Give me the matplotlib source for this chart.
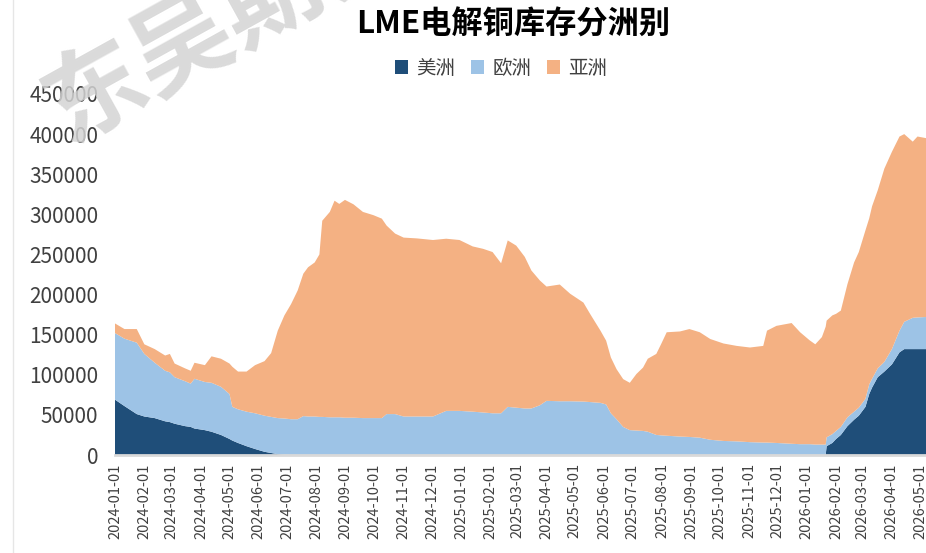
import matplotlib
matplotlib.use("Agg")
import matplotlib.pyplot as plt
import matplotlib.dates as mdates
from matplotlib.lines import Line2D
import pandas as pd

plt.rcParams['font.family'] = ['Noto Sans CJK SC', 'DejaVu Sans']

title = "LME电解铜库存分洲别"
series_names = ["美洲", "欧洲", "亚洲"]
watermark = "东吴期货"

dates = [
    "2024-01-01", "2024-01-11", "2024-01-24", "2024-02-01", "2024-02-12", "2024-02-23",
    "2024-02-28", "2024-03-04", "2024-03-15", "2024-03-21", "2024-03-25", "2024-04-05",
    "2024-04-12", "2024-04-22", "2024-05-01", "2024-05-04", "2024-05-10", "2024-05-19",
    "2024-05-28", "2024-06-07", "2024-06-14", "2024-06-21", "2024-06-28", "2024-07-05",
    "2024-07-12", "2024-07-18", "2024-07-23", "2024-07-30", "2024-08-04", "2024-08-07",
    "2024-08-15", "2024-08-20", "2024-08-25", "2024-08-31", "2024-09-09", "2024-09-19",
    "2024-09-30", "2024-10-09", "2024-10-14", "2024-10-23", "2024-11-01", "2024-11-15",
    "2024-12-02", "2024-12-16", "2024-12-30", "2025-01-13", "2025-01-24", "2025-02-03",
    "2025-02-12", "2025-02-19", "2025-02-28", "2025-03-09", "2025-03-16", "2025-03-25",
    "2025-04-01", "2025-04-15", "2025-04-26", "2025-05-10", "2025-05-17", "2025-05-28",
    "2025-06-03", "2025-06-08", "2025-06-14", "2025-06-21", "2025-06-28", "2025-07-05",
    "2025-07-12", "2025-07-17", "2025-07-26", "2025-07-31", "2025-08-06", "2025-08-20",
    "2025-08-30", "2025-09-10", "2025-09-21", "2025-10-05", "2025-10-19", "2025-11-02",
    "2025-11-16", "2025-11-20", "2025-11-30", "2025-12-16", "2025-12-25", "2026-01-04",
    "2026-01-10", "2026-01-17", "2026-01-21", "2026-01-22", "2026-01-28", "2026-02-01",
    "2026-02-06", "2026-02-13", "2026-02-20", "2026-02-25", "2026-03-04", "2026-03-08",
    "2026-03-11", "2026-03-17", "2026-03-24", "2026-04-01", "2026-04-09", "2026-04-14",
    "2026-04-23", "2026-04-28", "2026-05-07",
]

americas = [
    69000, 61000, 51000, 48000, 46000, 42000, 41000, 39000, 36000, 35000, 33000, 31000,
    29000, 25000, 20000, 18000, 15000, 11000, 7500, 4000, 2500, 1000, 300, 0,
    0, 0, 0, 0, 0, 0, 0, 0, 0, 0, 0, 0,
    0, 0, 0, 0, 0, 0, 0, 0, 0, 0, 0, 0,
    0, 0, 0, 0, 0, 0, 0, 0, 0, 0, 0, 0,
    0, 0, 0, 0, 0, 0, 0, 0, 0, 0, 0, 0,
    0, 0, 0, 0, 0, 0, 0, 0, 0, 0, 0, 0,
    0, 0, 0, 11000, 15000, 20000, 25000, 36000, 44000, 49000, 60000, 76000,
    84000, 97000, 104000, 113000, 128000, 132000, 132000, 132000, 132000,
]

europe = [
    83000, 84000, 89000, 78000, 69000, 63000, 62000, 58000, 56000, 54000, 62000, 60000,
    61000, 60000, 56000, 42000, 42000, 43000, 44500, 45000, 45000, 45000, 45200, 44600,
    44600, 48500, 48000, 48000, 47500, 47500, 47000, 47000, 47000, 46500, 46500, 46000,
    46000, 46000, 51000, 51000, 48000, 48000, 48000, 55000, 55000, 54000, 53000, 52000,
    52000, 60000, 59000, 58000, 58000, 62000, 67500, 67000, 67000, 66600, 66000, 65000,
    63000, 52000, 44600, 35000, 31000, 30500, 30000, 29000, 25000, 24500, 24000, 23000,
    22500, 21600, 19000, 17500, 17000, 16000, 15500, 15500, 15000, 14000, 13500, 13500,
    13000, 13000, 13000, 11000, 11000, 10000, 10000, 11000, 10000, 10000, 10000, 12000,
    11000, 11000, 12000, 19000, 27000, 34000, 39000, 39500, 40000,
]

asia = [
    12000, 12000, 17000, 12000, 17000, 19000, 23000, 17000, 16000, 16000, 20000, 21000,
    33000, 35000, 38000, 50000, 47000, 50000, 60000, 68000, 79500, 109000, 128500, 143400,
    160400, 177500, 186000, 192000, 202500, 244500, 256000, 270000, 266000, 271500, 266000, 257000,
    253000, 248600, 235000, 225000, 223000, 222000, 220000, 214600, 213000, 206000, 204000, 201000,
    187000, 207500, 202000, 189000, 172000, 155500, 142500, 145500, 134000, 123400, 110000, 90000,
    79500, 69600, 62400, 59600, 59000, 70500, 79000, 91000, 101000, 113500, 129000, 131000,
    134500, 131400, 125600, 121500, 119000, 118000, 120500, 139500, 146000, 150500, 139500, 129500,
    125000, 134000, 147000, 145500, 148000, 146000, 145000, 166000, 186000, 194000, 210000, 207000,
    215000, 222000, 241000, 246000, 242000, 234000, 219600, 225500, 223000,
]

y_ticks = [0, 50000, 100000, 150000, 200000, 250000, 300000, 350000, 400000, 450000]
colors = ["#1F4E79", "#9DC3E6", "#F4B183"]

W, H = 926, 553
fig = plt.figure(figsize=(W / 100, H / 100), dpi=100)
ax = fig.add_axes([115 / W, 1 - 455 / H, 1 - 115 / W, (455 - 94) / H])

x = pd.to_datetime(dates)
ax.stackplot(x, americas, europe, asia, colors=colors, labels=series_names,
             linewidth=0)

ax.set_ylim(0, 450000)
ax.set_yticks(y_ticks)
ax.set_yticklabels([str(v) for v in y_ticks])
ax.set_xlim(pd.Timestamp("2024-01-01"), pd.Timestamp("2026-05-07"))
ax.xaxis.set_major_locator(mdates.MonthLocator(bymonthday=1))
ax.xaxis.set_major_formatter(mdates.DateFormatter("%Y-%m-%d"))

for s in ["top", "right", "left"]:
    ax.spines[s].set_visible(False)
ax.spines["bottom"].set_color("#d9d9d9")
ax.spines["bottom"].set_linewidth(2)
ax.tick_params(axis="y", length=0, pad=12, labelsize=15, labelcolor="#404040")
ax.tick_params(axis="x", length=0, pad=6, labelsize=10.5, labelcolor="#404040",
               labelrotation=90)

fig.text(513 / W, 1 - 25 / H, title, ha="center", va="center", fontsize=22.5,
         fontweight="bold", color="#000000")

handles, labels = ax.get_legend_handles_labels()
fig.legend(handles, labels, loc="center", bbox_to_anchor=(501 / W, 1 - 68 / H),
           ncol=3, frameon=False, fontsize=14, handlelength=0.7, handleheight=0.7,
           handletextpad=0.4, columnspacing=0.8, labelcolor="#404040")

# faint border line on the left
fig.add_artist(Line2D([13 / W, 13 / W], [0, 1], transform=fig.transFigure,
                      color="#e6e6e6", linewidth=1))

# watermark
fig.text(52 / W, 1 - 118 / H, watermark, ha="left", va="center", rotation=29,
         rotation_mode="anchor", fontsize=72, fontweight="bold", color="#d4d4d4",
         alpha=0.85, zorder=10)

fig.savefig("out.png", dpi=100)
